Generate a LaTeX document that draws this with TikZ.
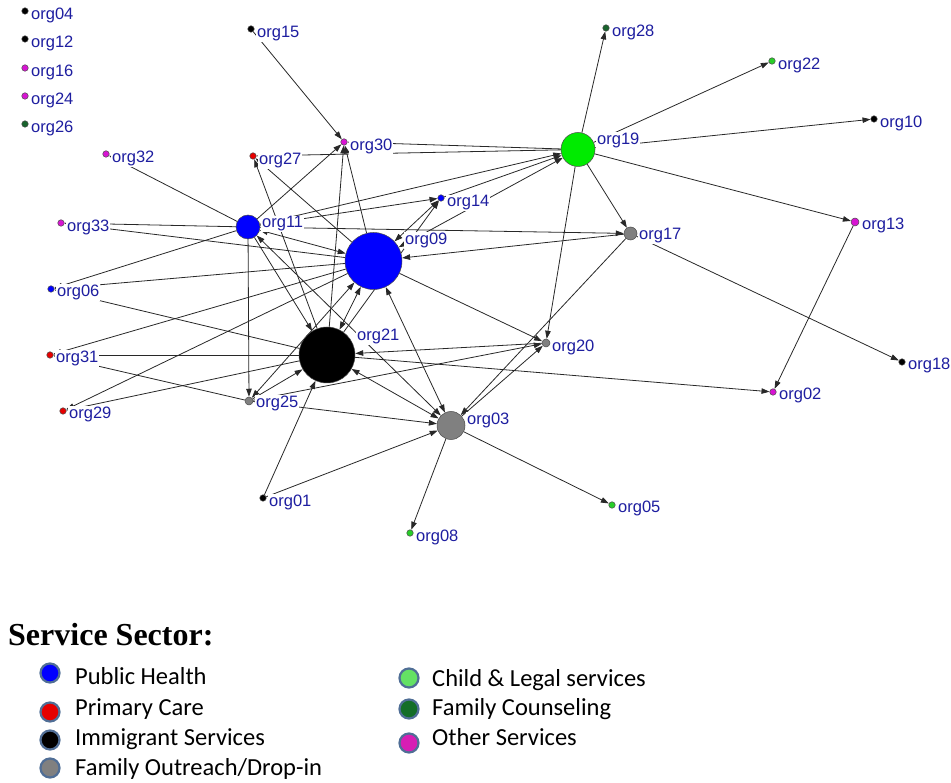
\documentclass[tikz,border=0pt]{standalone}
\usepackage{fontspec}
\setmainfont{Liberation Sans}
\newfontfamily\legfont{Carlito}
\newfontfamily\headfont{Liberation Serif}
\usetikzlibrary{arrows.meta}

\pgfdeclarelayer{edgelayer}
\pgfdeclarelayer{labellayer}
\pgfsetlayers{edgelayer,labellayer,main}

\definecolor{labblue}{RGB}{30,30,160}
\definecolor{phblue}{RGB}{0,0,255}
\definecolor{pcred}{RGB}{230,0,0}
\definecolor{fogray}{RGB}{128,128,128}
\definecolor{clgreen}{RGB}{0,235,0}
\definecolor{clsmall}{RGB}{40,205,40}
\definecolor{fcgreen}{RGB}{25,100,45}
\definecolor{osmag}{RGB}{215,20,210}
\definecolor{edgecol}{RGB}{40,40,40}
\definecolor{rimcol}{RGB}{80,110,150}
\definecolor{keygreen}{RGB}{100,225,100}
\definecolor{keydark}{RGB}{20,110,40}
\definecolor{keymag}{RGB}{215,30,180}

\tikzset{
  org/.style={circle, draw=black!70, line width=0.5pt, inner sep=0pt, minimum size=#1},
  org/.default=6.5pt,
  lab/.style={anchor=base west, text=labblue, fill=white, inner sep=1pt,
              font=\fontsize{16.5}{18}\selectfont},
  link/.style={draw=edgecol, line width=0.8pt, -{Triangle[length=8pt,width=5.5pt]}},
  blink/.style={draw=edgecol, line width=0.8pt,
                {Triangle[length=8pt,width=5.5pt]}-{Triangle[length=8pt,width=5.5pt]}},
  key/.style={circle, draw=rimcol, line width=2.2pt, inner sep=0pt, minimum size=19pt},
  keytext/.style={anchor=base west, inner sep=0pt, font=\legfont\fontsize{24.5}{28}\selectfont},
}

\begin{document}
\begin{tikzpicture}[x=1pt, y=-1pt]
\useasboundingbox (0,0) rectangle (951,783);

% ---- organisations ----
\node[org, fill=black]   (o04) at (25,11) {};
\node[org, fill=black]   (o12) at (25,39) {};
\node[org, fill=osmag]   (o16) at (25,68) {};
\node[org, fill=osmag]   (o24) at (25,96) {};
\node[org, fill=fcgreen] (o26) at (25,124) {};
\node[org, fill=black]   (o15) at (251,29) {};
\node[org, fill=fcgreen] (o28) at (606,28) {};
\node[org, fill=clsmall] (o22) at (772,61) {};
\node[org, fill=black]   (o10) at (874,119) {};
\node[org=34pt, fill=clgreen] (o19) at (578,149.5) {};
\node[org, fill=osmag]   (o30) at (344,142) {};
\node[org, fill=pcred]   (o27) at (253,156) {};
\node[org, fill=osmag]   (o32) at (106,154) {};
\node[org, fill=phblue]  (o14) at (441,198) {};
\node[org=24pt, fill=phblue] (o11) at (248,227) {};
\node[org=57pt, fill=phblue] (o09) at (373.5,261) {};
\node[org, fill=osmag]   (o33) at (61,223) {};
\node[org=13pt, fill=fogray] (o17) at (630.5,233.5) {};
\node[org=8pt, fill=osmag]  (o13) at (855,222) {};
\node[org, fill=phblue]  (o06) at (51,289) {};
\node[org=56pt, fill=black] (o21) at (327,355) {};
\node[org=8pt, fill=fogray] (o20) at (546,343) {};
\node[org, fill=pcred]   (o31) at (50,355) {};
\node[org=8pt, fill=fogray] (o25) at (249,401) {};
\node[org, fill=pcred]   (o29) at (63,411) {};
\node[org, fill=black]   (o18) at (902,362) {};
\node[org, fill=osmag]   (o02) at (773,392) {};
\node[org=28pt, fill=fogray] (o03) at (451,425.5) {};
\node[org, fill=black]   (o01) at (263,498) {};
\node[org, fill=clsmall] (o05) at (612,505) {};
\node[org, fill=clsmall] (o08) at (410,533) {};

% ---- names ----
\begin{pgfonlayer}{labellayer}
\node[lab] (l04) at (30,20) {org04};
\node[lab] (l12) at (30,48) {org12};
\node[lab] (l16) at (30,77) {org16};
\node[lab] (l24) at (30,105) {org24};
\node[lab] (l26) at (30,133) {org26};
\node[lab] (l15) at (256,38) {org15};
\node[lab] (l28) at (611,37) {org28};
\node[lab] (l22) at (777,70) {org22};
\node[lab] (l10) at (879,128) {org10};
\node[lab] (l19) at (596,145) {org19};
\node[lab] (l30) at (349,151) {org30};
\node[lab] (l27) at (258,165) {org27};
\node[lab] (l32) at (111,163) {org32};
\node[lab] (l14) at (446,207) {org14};
\node[lab] (l11) at (261,228) {org11};
\node[lab] (l09) at (404,245) {org09};
\node[lab] (l33) at (66,232) {org33};
\node[lab] (l17) at (638,240) {org17};
\node[lab] (l13) at (861,230) {org13};
\node[lab] (l06) at (56,297) {org06};
\node[lab] (l21) at (356,341) {org21};
\node[lab] (l20) at (551,352) {org20};
\node[lab] (l31) at (55,363) {org31};
\node[lab] (l25) at (255,408) {org25};
\node[lab] (l29) at (68,419) {org29};
\node[lab] (l18) at (907,370) {org18};
\node[lab] (l02) at (778,400) {org02};
\node[lab] (l03) at (466,425) {org03};
\node[lab] (l01) at (268,507) {org01};
\node[lab] (l05) at (617,513) {org05};
\node[lab] (l08) at (415,541) {org08};
\end{pgfonlayer}

% ---- ties ----
\begin{pgfonlayer}{edgelayer}
\draw[link] (o19) -- (o28);
\draw[link] (o19) -- (o22);
\draw[link] (o19) -- (o10);
\draw[link] (o19) -- (o13);
\draw[link] (o19) -- (o17);
\draw[link] (o19) -- (o20);
\draw[link] (o19) -- (o30);
\draw[link] (o19) -- (o27);
\draw[link] (o11) -- (o19);
\draw[link] (o14) -- (o19);
\draw[blink] (o09) -- (o19);
\draw[link] (o13) -- (o02);
\draw[link] (o17) -- (o18);
\draw[link] (o21) -- (o02);
\draw[link] (o15) -- (o30);
\draw[link] (o11) -- (o30);
\draw[link] (o09) -- (o30);
\draw[link] (o21) -- (o30);
\draw[link] (o21) -- (o27);
\draw[link] (o09) -- (o27);
\draw[link] (o11) -- (o14);
\draw[blink] (o09) -- (o14);
\draw[link] (o21) -- (o14);
\draw[blink] (o11) -- (o09);
\draw[link] (o11) -- (o17);
\draw[link] (o17) -- (o09);
\draw[link] (o11) -- (o32);
\draw[link] (o11) -- (o33);
\draw[link] (o11) -- (o06);
\draw[link] (o09) -- (o33);
\draw[link] (o09) -- (o06);
\draw[link] (o09) -- (o31);
\draw[link] (o09) -- (o29);
\draw[link] (o21) -- (o06);
\draw[link] (o21) -- (o31);
\draw[link] (o21) -- (o29);
\draw[link] (o11) -- (o25);
\draw[link] (o11) -- (o21);
\draw[blink] (o11) -- (o03);
\draw[blink] (o09) -- (o21);
\draw[blink] (o09) -- (o25);
\draw[blink] (o09) -- (o03);
\draw[link] (o09) -- (o20);
\draw[link] (o25) -- (o21);
\draw[link] (o25) -- (o20);
\draw[link] (o25) -- (o03);
\draw[link] (o25) -- (o31);
\draw[link] (o20) -- (o21);
\draw[link] (o03) -- (o20);
\draw[link] (o17) -- (o03);
\draw[blink] (o21) -- (o03);
\draw[link] (o01) -- (o21);
\draw[link] (o01) -- (o03);
\draw[link] (o03) -- (o05);
\draw[link] (o03) -- (o08);
\end{pgfonlayer}

% ---- key ----
\node[anchor=base west, inner sep=0pt, font=\headfont\bfseries\fontsize{32}{36}\selectfont]
  (ttl) at (8,645) {Service Sector:};

\node[key, fill=phblue] (k1) at (50,673) {};
\node[key, fill=pcred]  (k2) at (50,712) {};
\node[key, fill=black]  (k3) at (50,740) {};
\node[key, fill=fogray] (k4) at (50,768) {};
\node[key, fill=keygreen] (k5) at (409,678) {};
\node[key, fill=keydark]  (k6) at (409,709) {};
\node[key, fill=keymag]   (k7) at (409,743) {};

\node[keytext] (t1) at (75,684) {Public Health};
\node[keytext] (t2) at (75,715) {Primary Care};
\node[keytext] (t3) at (75,745) {Immigrant Services};
\node[keytext] (t4) at (75,775) {Family Outreach/Drop-in};
\node[keytext] (t5) at (432,686) {Child \& Legal services};
\node[keytext] (t6) at (432,715) {Family Counseling};
\node[keytext] (t7) at (432,745) {Other Services};
\end{tikzpicture}
\end{document}
